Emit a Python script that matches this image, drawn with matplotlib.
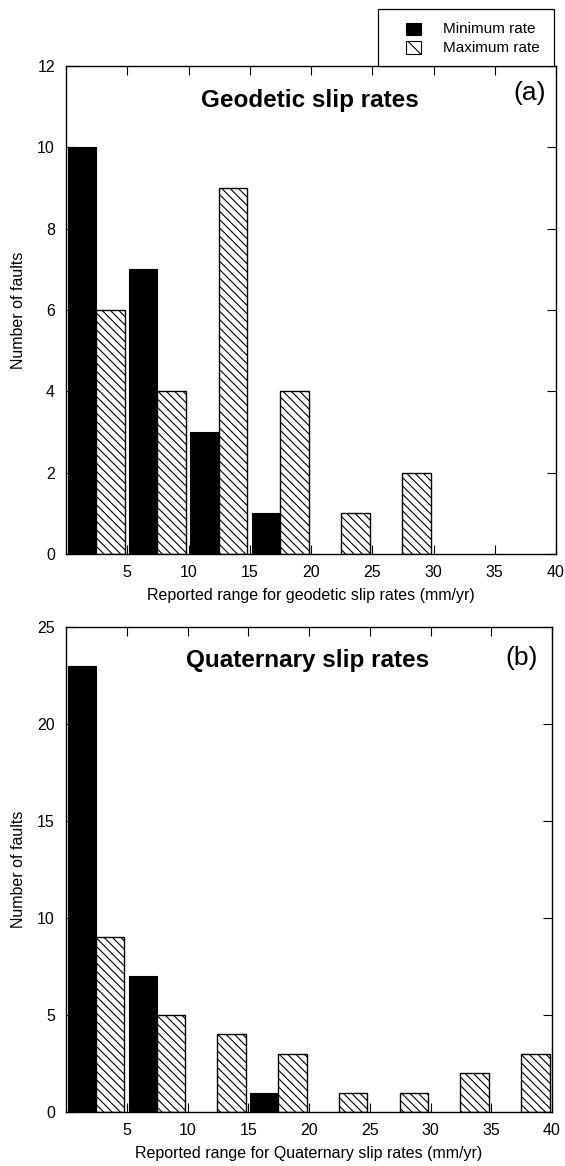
import matplotlib
matplotlib.use("Agg")
import matplotlib.pyplot as plt
import numpy as np
from matplotlib.patches import Rectangle

plt.rcParams['font.family'] = ['Liberation Sans', 'DejaVu Sans']
plt.rcParams['hatch.linewidth'] = 0.8

bins = [0, 5, 10, 15, 20, 25, 30, 35]
geo_min = [10, 7, 3, 1, 0, 0, 0, 0]
geo_max = [6, 4, 9, 4, 1, 2, 0, 0]
qua_min = [23, 7, 0, 1, 0, 0, 0, 0]
qua_max = [9, 5, 4, 3, 1, 1, 2, 3]
xticks = [5, 10, 15, 20, 25, 30, 35, 40]
legend_labels = ['Minimum rate', 'Maximum rate']

W, H = 565, 1166
fig = plt.figure(figsize=(W / 100, H / 100), dpi=100)
ax1 = fig.add_axes([66 / W, 1 - 554 / H, 490 / W, 488 / H])
ax2 = fig.add_axes([66 / W, 1 - 1112 / H, 486 / W, 485 / H])

def draw(ax, mins, maxs, ymax, ystep, title, tag, xlabel, tagx, tagy):
    b = np.array(bins, dtype=float)
    mins = np.array(mins, dtype=float)
    maxs = np.array(maxs, dtype=float)
    m = mins > 0
    ax.bar(b[m] + 2.45, mins[m], width=-2.3, align='edge', color='black',
           edgecolor='black', linewidth=0.8)
    m2 = maxs > 0
    ax.bar(b[m2] + 2.45, maxs[m2], width=2.35, align='edge', color='white',
           edgecolor='black', hatch='\\\\\\\\', linewidth=1.0)
    ax.set_xlim(0, 40)
    ax.set_ylim(0, ymax)
    ax.set_xticks(xticks)
    ax.set_yticks(np.arange(0, ymax + 0.1, ystep))
    ax.tick_params(direction='in', top=True, right=True, length=6.5, width=0.8,
                   labelsize=11.5, pad=8)
    ax.set_xlabel(xlabel, fontsize=11.5, labelpad=6)
    ax.set_ylabel('Number of faults', fontsize=11.5, labelpad=8)
    ax.text(0.498, 0.93, title, transform=ax.transAxes, ha='center', va='center',
            fontsize=17.5, fontweight='bold')
    ax.text(tagx, tagy, tag, transform=ax.transAxes, ha='center', va='center',
            fontsize=19)
    for s in ax.spines.values():
        s.set_linewidth(1.0)

draw(ax1, geo_min, geo_max, 12, 2, 'Geodetic slip rates', '(a)',
     'Reported range for geodetic slip rates (mm/yr)', 0.947, 0.944)
draw(ax2, qua_min, qua_max, 25, 5, 'Quaternary slip rates', '(b)',
     'Reported range for Quaternary slip rates (mm/yr)', 0.938, 0.936)

# legend box drawn in figure pixel coordinates
def fx(px):
    return px / W

def fy(py):
    return 1 - py / H

fig.patches.append(Rectangle((fx(378), fy(66)), fx(554) - fx(378), fy(9) - fy(66),
                             transform=fig.transFigure, facecolor='white',
                             edgecolor='black', linewidth=0.9))
rows = [(23, 35), (41, 54)]
styles = [dict(facecolor='black', edgecolor='black'),
          dict(facecolor='white', edgecolor='black', hatch='\\\\')]
for (y0, y1), st, lab in zip(rows, styles, legend_labels):
    fig.patches.append(Rectangle((fx(406), fy(y1)), fx(421) - fx(406), fy(y0) - fy(y1),
                                 transform=fig.transFigure, linewidth=0.8, **st))
    fig.text(fx(443), fy((y0 + y1) / 2), lab, ha='left', va='center', fontsize=11)

fig.savefig('out.png', dpi=100)
